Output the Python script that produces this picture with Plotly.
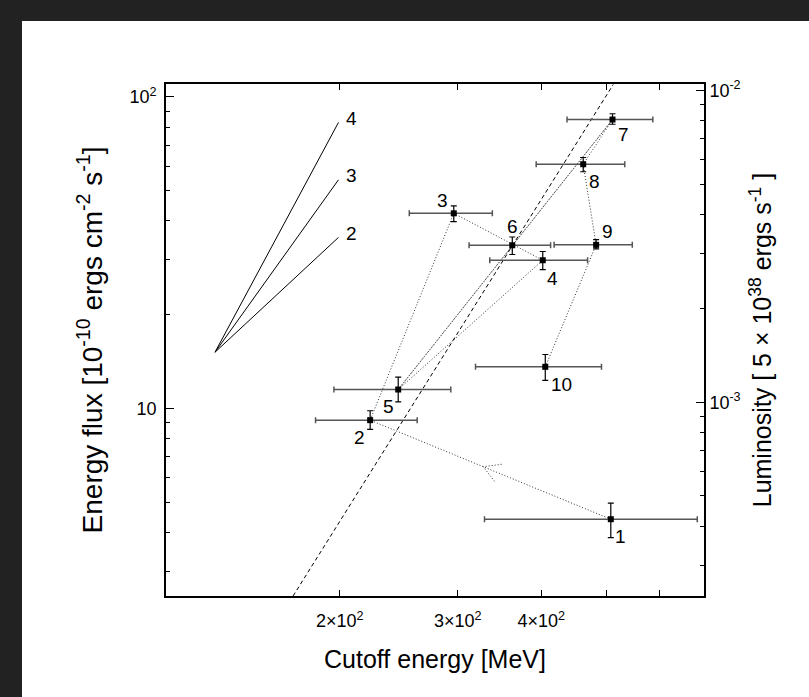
import math
import plotly.graph_objects as go

# ---------------- data ----------------
ids = ["1", "2", "3", "4", "5", "6", "7", "8", "9", "10"]
energy = [508, 222, 296, 402, 244.5, 362, 511, 462, 483, 405.5]
energy_lo = [329, 184, 254, 335, 196, 312, 437, 393, 418, 319]
energy_hi = [684, 261, 338, 469, 293, 413, 587, 533, 547, 492]
flux = [4.41, 9.17, 42.3, 29.9, 11.5, 33.4, 84.6, 60.8, 33.5, 13.6]
flux_lo = [3.85, 8.56, 39.8, 27.9, 10.5, 31.2, 81.7, 57.5, 32.5, 12.3]
flux_hi = [4.97, 9.83, 44.7, 31.9, 12.6, 35.5, 88.3, 63.9, 34.8, 14.9]
# label offsets (px) for point numbers
lab_dx = [10, -11, -11, 10, -10, 0, 11, 11, 11, 16]
lab_dy = [-17, -17, 13, -18, -17, 19, -15, -17, 13, -18]
extra_link = [("5", "7")]

# dashed relation line (endpoints)
dash_E = [170.3, 512.3]
dash_F = [2.5, 109.6]

# power-law guide lines E^n
guide_n = ["2", "3", "4"]
guide_E = [130.2, 199.1]
guide_F0 = 15.15
guide_F1 = [35.4, 54.2, 82.8]

# axes
x_range = [110, 700]
y_range = [2.5, 110]
x_ticks = [200, 300, 400, 500, 600]
x_ticktext = ["2×10<sup>2</sup>", "3×10<sup>2</sup>", "4×10<sup>2</sup>", "", ""]
y_ticks = [10, 100]
y_ticktext = ["10", "10<sup>2</sup>"]
y_minor = [3, 4, 5, 6, 7, 8, 9, 20, 30, 40, 50, 60, 70, 80, 90]
lum_per_flux = 9.55e-5
y2_ticks = [1e-3, 1e-2]
y2_ticktext = ["10<sup>-3</sup>", "10<sup>-2</sup>"]
y2_minor = [2e-4, 3e-4, 4e-4, 5e-4, 6e-4, 7e-4, 8e-4, 9e-4,
            2e-3, 3e-3, 4e-3, 5e-3, 6e-3, 7e-3, 8e-3, 9e-3]

FONT = "Liberation Sans, Arial, Helvetica, sans-serif"
DOT = "1px,2px"

fig = go.Figure()

# dotted path in time order
fig.add_trace(go.Scatter(x=energy, y=flux, mode="lines",
                         line=dict(color="#333", width=1, dash=DOT),
                         hoverinfo="skip", showlegend=False))
for a, b in extra_link:
    ia, ib = ids.index(a), ids.index(b)
    fig.add_trace(go.Scatter(x=[energy[ia], energy[ib]], y=[flux[ia], flux[ib]],
                             mode="lines", line=dict(color="#333", width=1, dash=DOT),
                             hoverinfo="skip", showlegend=False))

# open arrowhead on segment 1 -> 2
SX, SY = 668.9, 312.0
u1, v1 = math.log10(energy[0]) * SX, math.log10(flux[0]) * SY
u2, v2 = math.log10(energy[1]) * SX, math.log10(flux[1]) * SY
t = 0.53
ut, vt = u1 + t * (u2 - u1), v1 + t * (v2 - v1)
d = math.hypot(u2 - u1, v2 - v1)
bx, by = (u1 - u2) / d, (v1 - v2) / d
L, ang = 18.5, math.radians(30)
ax_, ay_ = [], []
for s in (1, -1):
    c, sn = math.cos(s * ang), math.sin(s * ang)
    rx, ry = bx * c - by * sn, bx * sn + by * c
    ax_ += [10 ** ((ut + L * rx) / SX), 10 ** (ut / SX), None]
    ay_ += [10 ** ((vt + L * ry) / SY), 10 ** (vt / SY), None]
fig.add_trace(go.Scatter(x=ax_, y=ay_, mode="lines",
                         line=dict(color="#333", width=1, dash=DOT),
                         hoverinfo="skip", showlegend=False))

# dashed line
fig.add_trace(go.Scatter(x=dash_E, y=dash_F, mode="lines",
                         line=dict(color="black", width=1, dash="4px,3px"),
                         hoverinfo="skip", showlegend=False))

# power-law guide lines
for n, f1 in zip(guide_n, guide_F1):
    fig.add_trace(go.Scatter(x=guide_E, y=[guide_F0, f1], mode="lines",
                             line=dict(color="black", width=1),
                             hoverinfo="skip", showlegend=False))
    fig.add_annotation(x=math.log10(guide_E[1]), y=math.log10(f1), text=n,
                       showarrow=False, xanchor="left", xshift=6, yshift=4,
                       font=dict(family=FONT, size=19, color="black"))

# points with error bars
fig.add_trace(go.Scatter(
    x=energy, y=flux, mode="markers",
    marker=dict(symbol="square", size=6, color="black"),
    error_x=dict(type="data", symmetric=False,
                 array=[h - e for h, e in zip(energy_hi, energy)],
                 arrayminus=[e - l for e, l in zip(energy, energy_lo)],
                 color="#555", thickness=1.5, width=3),
    error_y=dict(type="data", symmetric=False,
                 array=[h - f for h, f in zip(flux_hi, flux)],
                 arrayminus=[f - l for f, l in zip(flux, flux_lo)],
                 color="black", thickness=1.2, width=3),
    hoverinfo="skip", showlegend=False))

for i, lab in enumerate(ids):
    fig.add_annotation(x=math.log10(energy[i]), y=math.log10(flux[i]), text=lab,
                       showarrow=False, xshift=lab_dx[i], yshift=lab_dy[i],
                       font=dict(family=FONT, size=19, color="black"))

# invisible trace for right axis
fig.add_trace(go.Scatter(x=[energy[0]], y=[flux[0] * lum_per_flux], yaxis="y2",
                         mode="markers", marker=dict(opacity=0),
                         hoverinfo="skip", showlegend=False))

# dark border strips of the reference
W, H = 809, 697
ml, mr, mt, mb = 166, 105, 84, 101
pw, ph = W - ml - mr, H - mt - mb
def px(xp): return (xp - ml) / pw
def py(yp): return (H - mb - yp) / ph
for x0, y0, x1, y1 in [(0, 0, 22, H), (0, 0, W, 21)]:
    fig.add_shape(type="rect", xref="paper", yref="paper",
                  x0=px(x0), x1=px(x1), y0=py(y1), y1=py(y0),
                  fillcolor="#222222", line=dict(width=0), layer="below")

axis_common = dict(showgrid=False, zeroline=False, color="black",
                   linecolor="black", linewidth=1.6, showline=True,
                   ticks="inside", tickcolor="black", tickwidth=1,
                   tickfont=dict(family=FONT, size=18, color="black"))

fig.update_layout(
    width=W, height=H,
    margin=dict(l=ml, r=mr, t=mt, b=mb),
    paper_bgcolor="white", plot_bgcolor="white",
    font=dict(family=FONT, color="black"),
    xaxis=dict(type="log", range=[math.log10(x_range[0]), math.log10(x_range[1])],
               tickmode="array", tickvals=x_ticks, ticktext=x_ticktext,
               ticklen=6, mirror="ticks", ticklabelstandoff=8,
               title=dict(text="Cutoff energy [MeV]", standoff=20,
                          font=dict(family=FONT, size=25, color="black")),
               **axis_common),
    yaxis=dict(type="log", range=[math.log10(y_range[0]), math.log10(y_range[1])],
               tickmode="array", tickvals=y_ticks, ticktext=y_ticktext,
               ticklen=8, mirror=False, ticklabelstandoff=4,
               minor=dict(tickmode="array", tickvals=y_minor, ticks="inside",
                          ticklen=4, tickcolor="black", showgrid=False),
               title=dict(text="Energy flux [10<sup>-10</sup> ergs cm<sup>-2</sup> s<sup>-1</sup>]",
                          standoff=19, font=dict(family=FONT, size=28, color="black")),
               **axis_common),
    yaxis2=dict(type="log", overlaying="y", side="right", anchor="x",
                range=[math.log10(y_range[0] * lum_per_flux), math.log10(y_range[1] * lum_per_flux)],
                tickmode="array", tickvals=y2_ticks, ticktext=y2_ticktext,
                ticklen=8,
                minor=dict(tickmode="array", tickvals=y2_minor, ticks="inside",
                           ticklen=4, tickcolor="black", showgrid=False),
                title=dict(text="Luminosity [ 5 × 10<sup>38</sup> ergs s<sup>-1</sup> ]",
                           standoff=14, font=dict(family=FONT, size=25, color="black")),
                **axis_common),
)

fig.write_html("out.html", post_script=(
    "document.documentElement.style.overflow='hidden';"
    "document.body.style.margin='0';document.body.style.overflow='hidden';"))
